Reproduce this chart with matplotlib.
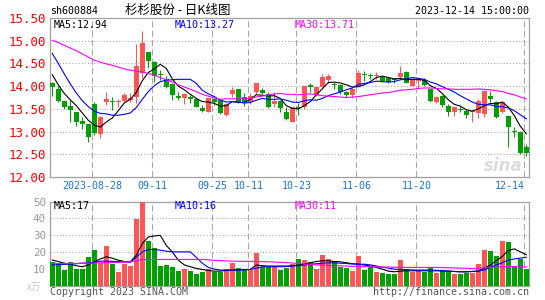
import matplotlib
matplotlib.use('Agg')
import matplotlib.pyplot as plt

plt.rcParams['font.family'] = ['DejaVu Sans Mono', 'Noto Sans CJK SC']

# ---- daily candles (index 0 = first visible trading day) ----
opens = [14.07, 13.93, 13.67, 13.56, 13.43, 13.23, 13.17, 13.61, 12.95, 13.66,
         13.68, 13.65, 13.67, 13.70, 13.77, 14.28, 14.75, 14.53, 14.27, 14.16,
         14.05, 13.78, 13.73, 13.77, 13.71, 13.51, 13.44, 13.72, 13.69, 13.36,
         13.83, 13.93, 13.77, 13.66, 13.88, 13.92, 13.83, 13.61, 13.68, 13.44,
         13.22, 13.55, 13.53, 14.03, 13.81, 13.98, 14.13, 14.04, 14.03, 13.88,
         13.81, 14.00, 14.26, 14.24, 14.22, 14.21, 14.17, 14.15, 14.20, 14.32,
         14.00, 14.11, 14.14, 13.93, 13.66, 13.79, 13.56, 13.44, 13.50, 13.46,
         13.42, 13.40, 13.39, 13.78, 13.66, 13.42, 13.34, 13.01, 13.00, 12.67]
highs = [14.10, 14.00, 13.68, 13.70, 13.44, 13.33, 13.17, 13.66, 13.34, 13.88,
         13.77, 13.71, 13.86, 13.85, 14.92, 15.22, 14.76, 14.55, 14.36, 14.22,
         14.06, 13.88, 13.86, 13.80, 13.73, 13.58, 13.74, 13.75, 13.70, 13.62,
         13.99, 13.94, 13.86, 13.86, 14.08, 13.96, 13.88, 13.88, 13.69, 13.55,
         13.55, 13.62, 14.01, 14.06, 14.01, 14.26, 14.27, 14.10, 14.05, 13.90,
         13.97, 14.36, 14.33, 14.30, 14.32, 14.23, 14.21, 14.19, 14.44, 14.33,
         14.18, 14.18, 14.18, 13.95, 13.78, 13.80, 13.60, 13.54, 13.56, 13.50,
         13.47, 13.72, 13.91, 13.90, 13.67, 13.66, 13.35, 13.10, 13.01, 12.72]
lows = [13.78, 13.66, 13.50, 13.20, 13.12, 13.06, 12.76, 12.93, 12.85, 13.59,
        13.48, 13.55, 13.64, 13.64, 13.62, 14.17, 14.39, 14.10, 14.14, 13.95,
        13.70, 13.70, 13.61, 13.62, 13.53, 13.43, 13.42, 13.58, 13.38, 13.34,
        13.77, 13.62, 13.56, 13.60, 13.83, 13.82, 13.52, 13.53, 13.43, 13.26,
        13.20, 13.37, 13.50, 13.88, 13.79, 13.98, 14.08, 13.94, 13.83, 13.76,
        13.74, 13.98, 14.12, 14.15, 14.15, 14.10, 14.06, 14.06, 14.19, 14.06,
        14.00, 13.94, 14.00, 13.66, 13.62, 13.55, 13.34, 13.34, 13.42, 13.30,
        13.22, 13.30, 13.31, 13.66, 13.30, 13.40, 12.65, 12.88, 12.50, 12.47]
closes = [13.98, 13.67, 13.53, 13.48, 13.20, 13.17, 12.87, 12.96, 13.31, 13.72,
          13.64, 13.67, 13.80, 13.74, 14.45, 14.94, 14.56, 14.22, 14.25, 13.98,
          13.81, 13.75, 13.83, 13.71, 13.55, 13.45, 13.73, 13.64, 13.41, 13.60,
          13.92, 13.65, 13.62, 13.78, 14.08, 13.86, 13.54, 13.68, 13.51, 13.28,
          13.53, 13.52, 14.00, 13.99, 13.99, 14.21, 14.23, 14.03, 13.87, 13.81,
          13.94, 14.28, 14.24, 14.23, 14.24, 14.12, 14.10, 14.13, 14.28, 14.08,
          14.15, 14.13, 14.03, 13.68, 13.77, 13.59, 13.44, 13.53, 13.48, 13.37,
          13.45, 13.67, 13.90, 13.71, 13.33, 13.64, 13.10, 12.99, 12.52, 12.53]

ma5 = [14.25, 14.03, 13.84, 13.70, 13.57, 13.41, 13.25, 13.14, 13.10, 13.21,
       13.30, 13.46, 13.63, 13.71, 13.86, 14.12, 14.30, 14.38, 14.48, 14.39,
       14.16, 14.00, 13.92, 13.82, 13.73, 13.66, 13.65, 13.62, 13.56, 13.57,
       13.66, 13.64, 13.64, 13.71, 13.81, 13.80, 13.78, 13.79, 13.73, 13.57,
       13.51, 13.50, 13.57, 13.66, 13.81, 13.94, 14.08, 14.09, 14.07, 14.03,
       13.98, 13.99, 14.03, 14.10, 14.19, 14.22, 14.19, 14.16, 14.17, 14.14,
       14.15, 14.15, 14.13, 14.01, 13.95, 13.84, 13.70, 13.60, 13.56, 13.48,
       13.45, 13.50, 13.57, 13.62, 13.61, 13.65, 13.54, 13.35, 13.12, 12.95]
ma10 = [14.72, 14.50, 14.27, 14.05, 13.85, 13.68, 13.55, 13.45, 13.40, 13.39,
        13.36, 13.36, 13.38, 13.41, 13.53, 13.71, 13.88, 14.01, 14.10, 14.13,
        14.14, 14.15, 14.15, 14.15, 14.06, 13.91, 13.83, 13.77, 13.69, 13.65,
        13.66, 13.65, 13.63, 13.64, 13.69, 13.73, 13.71, 13.71, 13.72, 13.69,
        13.65, 13.64, 13.68, 13.70, 13.69, 13.73, 13.79, 13.83, 13.87, 13.92,
        13.96, 14.04, 14.06, 14.08, 14.11, 14.10, 14.09, 14.10, 14.14, 14.16,
        14.19, 14.17, 14.15, 14.09, 14.05, 13.99, 13.93, 13.87, 13.79, 13.72,
        13.65, 13.60, 13.59, 13.59, 13.55, 13.55, 13.52, 13.46, 13.37, 13.28]
ma30 = [15.01, 14.96, 14.90, 14.84, 14.78, 14.71, 14.64, 14.57, 14.53, 14.49,
        14.46, 14.42, 14.38, 14.35, 14.33, 14.31, 14.28, 14.24, 14.19, 14.14,
        14.09, 14.03, 13.98, 13.93, 13.88, 13.82, 13.78, 13.74, 13.71, 13.72,
        13.72, 13.72, 13.72, 13.73, 13.76, 13.78, 13.81, 13.83, 13.84, 13.82,
        13.82, 13.81, 13.82, 13.83, 13.81, 13.79, 13.78, 13.77, 13.76, 13.75,
        13.76, 13.77, 13.79, 13.81, 13.83, 13.85, 13.86, 13.88, 13.91, 13.92,
        13.93, 13.95, 13.96, 13.96, 13.95, 13.94, 13.94, 13.93, 13.93, 13.93,
        13.93, 13.94, 13.93, 13.92, 13.90, 13.88, 13.84, 13.81, 13.76, 13.72]

# ---- volume (x10k lots) ----
volumes = [14.3, 12.9, 9.4, 14.3, 10.0, 10.0, 17.3, 21.2, 13.9, 23.5,
           12.9, 8.4, 13.3, 11.8, 39.4, 49.6, 26.5, 22.2, 11.8, 12.4,
           11.2, 8.8, 10.0, 9.0, 7.1, 8.4, 10.0, 8.0, 8.0, 10.0,
           13.7, 10.8, 9.4, 9.4, 19.6, 11.4, 11.4, 11.0, 9.4, 10.4,
           13.3, 15.9, 15.3, 14.3, 10.0, 18.2, 15.9, 14.7, 11.4, 10.8,
           8.8, 17.8, 9.4, 11.4, 8.4, 7.6, 7.1, 7.1, 15.3, 9.8,
           8.4, 9.0, 8.4, 11.4, 7.6, 8.8, 8.8, 7.1, 7.1, 7.5,
           7.5, 12.9, 21.2, 20.6, 17.6, 26.5, 25.9, 11.4, 15.9, 10.0]
vol_ma5 = [15.3, 14.5, 13.5, 12.9, 12.0, 11.4, 12.5, 14.3, 16.0, 17.3,
           16.5, 15.3, 14.5, 14.3, 18.2, 25.1, 29.0, 29.6, 30.0, 24.0,
           20.2, 15.3, 12.5, 11.4, 10.4, 9.8, 9.2, 8.8, 8.8, 9.2,
           9.4, 9.6, 9.8, 9.8, 12.4, 12.0, 11.8, 11.8, 11.8, 11.8,
           12.0, 12.4, 12.9, 13.8, 14.5, 14.9, 14.9, 14.5, 14.3, 13.8,
           13.2, 12.9, 12.4, 11.8, 11.0, 10.0, 8.8, 8.4, 8.8, 9.0,
           9.0, 9.0, 9.0, 9.0, 9.0, 9.0, 8.8, 8.6, 8.4, 8.4,
           8.6, 8.8, 10.5, 12.4, 15.0, 17.5, 21.0, 22.0, 20.2, 18.5]
vol_ma10 = [12.4, 12.6, 12.8, 13.0, 13.2, 13.5, 13.7, 14.0, 14.7, 14.7,
            14.6, 14.5, 14.3, 14.1, 17.0, 20.2, 21.6, 21.6, 21.2, 20.6,
            20.2, 20.2, 20.2, 20.2, 17.0, 13.5, 11.0, 10.0, 9.4, 9.4,
            9.4, 9.4, 9.6, 9.8, 10.5, 11.4, 11.4, 11.4, 11.4, 11.5,
            11.8, 12.0, 12.4, 12.8, 13.2, 13.5, 13.7, 13.7, 13.5, 13.3,
            13.0, 12.9, 12.9, 12.5, 11.8, 11.2, 10.6, 10.0, 9.8, 9.6,
            9.5, 9.4, 9.4, 9.4, 9.2, 9.0, 8.8, 8.6, 8.4, 8.4,
            8.6, 8.8, 9.5, 11.0, 12.4, 13.8, 15.3, 16.0, 16.5, 17.0]
vol_ma30 = [13.3, 13.3, 13.3, 13.4, 13.4, 13.5, 13.5, 13.6, 13.7, 13.8,
            13.9, 14.0, 14.2, 14.3, 14.8, 15.7, 15.7, 15.7, 15.7, 15.7,
            15.7, 15.7, 15.7, 15.7, 15.7, 15.7, 15.5, 15.2, 15.0, 14.8,
            14.7, 14.6, 14.6, 14.6, 14.5, 14.4, 14.3, 14.2, 14.0, 13.8,
            13.6, 13.3, 13.0, 12.8, 12.5, 12.4, 12.2, 12.0, 11.9, 11.8,
            11.6, 11.5, 11.4, 11.4, 11.3, 11.2, 11.2, 11.1, 11.1, 11.0,
            11.0, 11.0, 11.0, 11.0, 11.0, 10.9, 10.8, 10.7, 10.6, 10.5,
            10.4, 10.5, 10.8, 11.0, 11.2, 11.4, 11.5, 11.6, 11.4, 11.2]

date_idx = [7, 17, 27, 33, 41, 51, 61, 79]
date_labels = ['2023-08-28', '09-11', '09-25', '10-11', '10-23', '11-06', '11-20', '12-14']
price_ticks = [12.0, 12.5, 13.0, 13.5, 14.0, 14.5, 15.0, 15.5]
vol_ticks = [10, 20, 30, 40, 50]

W, H = 545, 300
fig = plt.figure(figsize=(W / 100, H / 100), dpi=100)


def px_axes(l, t, r, b):
    return fig.add_axes([l / W, 1 - b / H, (r - l) / W, (b - t) / H])


ax = px_axes(50, 18, 529, 177)
axv = px_axes(50, 201.5, 529, 286)

UP, DOWN = '#FF5555', '#00A000'
GRID = '#A8A8A8'
n = len(closes)
xs = list(range(n))
colors = [UP if c >= o else DOWN for o, c in zip(opens, closes)]
body_lo = [min(o, c) for o, c in zip(opens, closes)]
body_h = [max(abs(c - o), 0.02) for o, c in zip(opens, closes)]

ax.vlines(xs, lows, highs, colors=colors, lw=0.75, zorder=3)
ax.bar(xs, body_h, bottom=body_lo, width=0.8, color=colors, zorder=3)
ax.plot(xs, ma5, color='black', lw=0.8, zorder=4)
ax.plot(xs, ma10, color='#0000FF', lw=0.8, zorder=4)
ax.plot(xs, ma30, color='#FF00FF', lw=0.8, zorder=4)

axv.bar(xs, volumes, width=0.8, color=colors, zorder=3)
axv.plot(xs, vol_ma5, color='black', lw=0.8, zorder=4)
axv.plot(xs, vol_ma10, color='#0000FF', lw=0.8, zorder=4)
axv.plot(xs, vol_ma30, color='#FF00FF', lw=0.8, zorder=4)

grid_x = [d - 0.33 for d in date_idx]
for a in (ax, axv):
    a.set_xlim(-0.38, 79.45)
    for gx in grid_x:
        a.axvline(gx, color=GRID, lw=0.75, ls=(0, (6, 3)), zorder=1)
    for s in a.spines.values():
        s.set_color('#A0A0A0')
        s.set_linewidth(0.9)
    a.tick_params(length=0)

ax.set_ylim(12.0, 15.5)
for y in price_ticks[1:-1]:
    ax.axhline(y, color=GRID, lw=0.75, ls=(0, (1, 2)), zorder=1)
ax.set_yticks(price_ticks, labels=[f'{t:.2f}' for t in price_ticks])
ax.tick_params(axis='y', labelcolor='#FF0000', labelsize=9, pad=3)
ax.set_xticks(grid_x, labels=date_labels)
ax.tick_params(axis='x', labelcolor='#1874CD', labelsize=7.2, pad=3)
ax.get_xticklabels()[-1].set_horizontalalignment('right')

axv.set_ylim(0, 50)
for y in vol_ticks[:-1]:
    axv.axhline(y, color=GRID, lw=0.75, ls=(0, (1, 2)), zorder=1)
axv.set_yticks(vol_ticks, labels=[str(t) for t in vol_ticks])
axv.tick_params(axis='y', labelcolor='#999999', labelsize=7.8, pad=3)
axv.set_xticks([])


def ftext(x, y, s, **kw):
    fig.text(x / W, 1 - y / H, s, va='center', **kw)


ftext(50, 11, 'sh600884', fontsize=7.2)
ftext(178, 10, '杉杉股份 - 日K线图', ha='center', fontsize=9,
      family=['Noto Sans CJK SC', 'DejaVu Sans'])
ftext(529, 11, '2023-12-14 15:00:00', ha='right', fontsize=7.2)

ftext(54, 24.5, 'MA5:12.94', fontsize=7.2, color='black')
ftext(175, 24.5, 'MA10:13.27', fontsize=7.2, color='#0000FF')
ftext(295, 24.5, 'MA30:13.71', fontsize=7.2, color='#FF00FF')

ftext(54, 206, 'MA5:17', fontsize=7.2, color='black')
ftext(175, 206, 'MA10:16', fontsize=7.2, color='#0000FF')
ftext(295, 206, 'MA30:11', fontsize=7.2, color='#FF00FF')

ftext(27, 287, 'x万', fontsize=7, color='#C8C8C8',
      family=['Noto Sans CJK SC', 'DejaVu Sans'])
ftext(50, 292, 'Copyright 2023 SINA.COM', fontsize=7.2, color='#555555')
ftext(529, 292, 'http://finance.sina.com.cn', ha='right', fontsize=7.2, color='#555555')

ftext(503, 166, 'sina', ha='center', fontsize=12, color='#DCDCDC',
      style='italic', weight='bold', family='DejaVu Sans')

fig.savefig('out.png', dpi=100)
